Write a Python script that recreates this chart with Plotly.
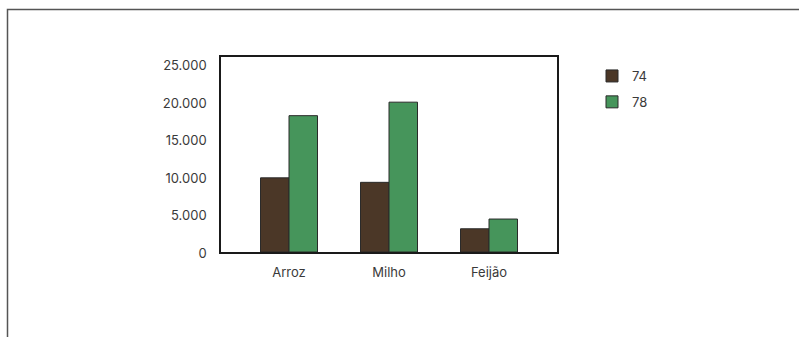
import plotly.graph_objects as go

# Production by crop, two survey years
categories = ["Arroz", "Milho", "Feijão"]
series_names = ["74", "78"]
values_74 = [9900, 9300, 3100]
values_78 = [18200, 20000, 4400]
y_tick_values = [0, 5000, 10000, 15000, 20000, 25000]
y_tick_labels = ["0", "5.000", "10.000", "15.000", "20.000", "25.000"]

colors = ["#4b3727", "#46955b"]
font_family = "Inter, 'Open Sans', sans-serif"

fig = go.Figure()
for i, (name, vals) in enumerate(zip(series_names, [values_74, values_78])):
    fig.add_trace(go.Bar(
        x=categories, y=vals, name=name,
        marker=dict(color=colors[i], line=dict(color="#2a2a2a", width=1)),
        legendgroup=name,
    ))

W, H = 799, 337
ml, mr, mt, mb = 221, 242, 57, 85
pw, ph = W - ml - mr, H - mt - mb


def px_x(v):
    return (v - ml) / pw


def px_y(v):
    return (H - mb - v) / ph


fig.update_layout(
    width=W, height=H,
    margin=dict(l=ml, r=mr, t=mt, b=mb, pad=0),
    paper_bgcolor="white", plot_bgcolor="white",
    barmode="group", bargap=0.43, bargroupgap=0,
    font=dict(family=font_family, size=13, color="#3a3a3a"),
    showlegend=True,
    legend=dict(
        x=px_x(592), y=px_y(61), xanchor="left", yanchor="top",
        font=dict(size=13, color="#3a3a3a"),
        tracegroupgap=6, itemwidth=30,
        bgcolor="rgba(0,0,0,0)",
    ),
    xaxis=dict(
        range=[-0.68, 2.68], showgrid=False, zeroline=False,
        showline=True, linecolor="#1a1a1a", linewidth=1.5, mirror=True,
        ticks="", tickfont=dict(size=13), ticklabelstandoff=8,
    ),
    yaxis=dict(
        range=[0, 26030], showgrid=False, zeroline=False,
        showline=True, linecolor="#1a1a1a", linewidth=1.5, mirror=True,
        tickvals=y_tick_values, ticktext=y_tick_labels,
        ticks="", tickfont=dict(size=13), ticklabelstandoff=10,
        ticklabelshift=1,
    ),
    shapes=[dict(
        type="path", xref="paper", yref="paper",
        path=f"M {px_x(7.5)},{px_y(340)} L {px_x(7.5)},{px_y(9.5)} L {px_x(805)},{px_y(9.5)}",
        line=dict(color="#555555", width=1.5),
    )],
)

fig.write_html("out.html")
